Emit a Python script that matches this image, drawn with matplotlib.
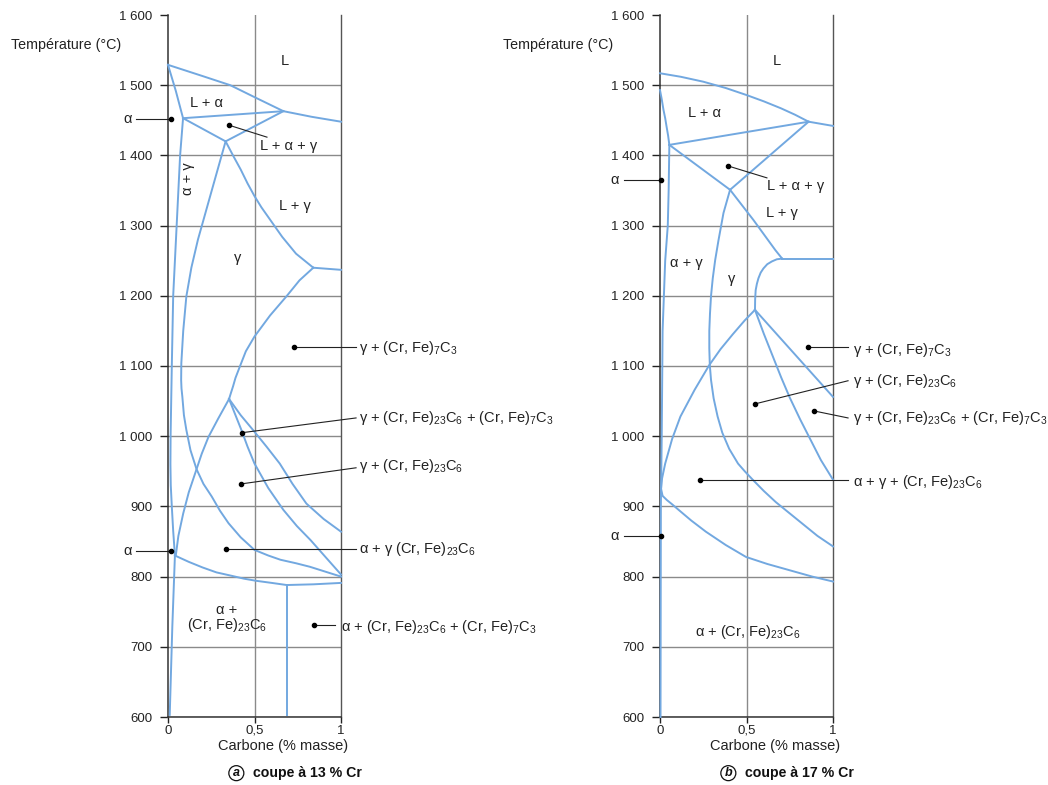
import matplotlib.pyplot as plt

plt.rcParams['font.family'] = ['Liberation Sans', 'DejaVu Sans']
plt.rcParams['mathtext.fontset'] = 'custom'
plt.rcParams['mathtext.rm'] = 'Liberation Sans'
plt.rcParams['mathtext.it'] = 'Liberation Sans:italic'

BLUE = '#72a8e0'
GRID = '#8a8a8a'
INK = '#222222'

temp_ticks = [600, 700, 800, 900, 1000, 1100, 1200, 1300, 1400, 1500, 1600]
temp_labels = ['600', '700', '800', '900', '1 000', '1 100', '1 200', '1 300', '1 400', '1 500', '1 600']
carbon_ticks = [0, 0.5, 1]
carbon_labels = ['0', '0,5', '1']

# ---- coupe a 13 % Cr : (carbone, temperature) pour chaque ligne
a_liquidus_c = [0, 0.2, 0.36, 0.5, 0.667, 0.83, 1.0]
a_liquidus_t = [1529, 1513, 1500, 1483, 1463, 1455, 1448]
a_solidus_alpha_c = [0, 0.045, 0.087]
a_solidus_alpha_t = [1529, 1492, 1453]
a_peri_high_c = [0.087, 0.667]
a_peri_high_t = [1453, 1463]
a_peri_low_c = [0.087, 0.333]
a_peri_low_t = [1453, 1420]
a_peri_join_c = [0.333, 0.667]
a_peri_join_t = [1420, 1463]
a_solidus_gamma_c = [0.333, 0.38, 0.42, 0.46, 0.5, 0.54, 0.58, 0.62, 0.66, 0.70, 0.74, 0.79, 0.84]
a_solidus_gamma_t = [1420, 1398, 1380, 1360, 1342, 1326, 1312, 1298, 1284, 1272, 1260, 1250, 1240]
a_eutectic_c = [0.84, 1.0]
a_eutectic_t = [1240, 1237]
a_m7c3_c = [0.84, 0.76, 0.684, 0.59, 0.5, 0.45, 0.415, 0.39, 0.376, 0.363, 0.353]
a_m7c3_t = [1240, 1222, 1199, 1172, 1142, 1121, 1099, 1083, 1071, 1061, 1053]
a_m23c6_c = [0.353, 0.29, 0.234, 0.195, 0.165, 0.12, 0.088, 0.06, 0.045]
a_m23c6_t = [1053, 1025, 999, 975, 953, 920, 890, 858, 830]
a_gamma_loop_c = [0.333, 0.254, 0.173, 0.135, 0.106, 0.088, 0.077, 0.076, 0.078, 0.083, 0.092,
                  0.106, 0.13, 0.165, 0.205, 0.253, 0.30, 0.35, 0.42, 0.5, 0.58, 0.65, 0.74, 0.82,
                  0.91, 1.0]
a_gamma_loop_t = [1420, 1351, 1280, 1240, 1199, 1150, 1104, 1080, 1068, 1056, 1030,
                  1009, 980, 953, 932, 914, 894, 876, 856, 838, 830, 824, 819, 814,
                  807, 800]
a_line_a_c = [0.353, 0.39, 0.424, 0.46, 0.5, 0.58, 0.667, 0.745, 0.824, 0.91, 1.0]
a_line_a_t = [1053, 1030, 1009, 985, 961, 926, 895, 872, 852, 828, 803]
a_line_b_c = [0.353, 0.42, 0.491, 0.57, 0.646, 0.72, 0.8, 0.9, 1.0]
a_line_b_t = [1053, 1030, 1009, 985, 961, 932, 904, 882, 864]
a_alpha_c = [0.087, 0.07, 0.06, 0.046, 0.03, 0.022, 0.015, 0.014, 0.016, 0.022, 0.03, 0.04]
a_alpha_t = [1453, 1400, 1350, 1280, 1200, 1100, 1000, 960, 930, 900, 865, 830]
a_alpha_low_c = [0.04, 0.025, 0.01]
a_alpha_low_t = [830, 729, 603]
a_eutectoid_c = [0.04, 0.12, 0.2, 0.28, 0.37, 0.44, 0.51, 0.6, 0.686, 0.84, 1.0]
a_eutectoid_t = [830, 821, 813, 806, 801, 797, 794, 791, 788, 789, 791]
a_vertical_c = [0.686, 0.686]
a_vertical_t = [788, 603]

# ---- coupe a 17 % Cr
b_liquidus_c = [0, 0.12, 0.25, 0.38, 0.5, 0.6, 0.7, 0.78, 0.859, 1.0]
b_liquidus_t = [1517, 1512, 1505, 1496, 1486, 1477, 1467, 1458, 1448, 1442]
b_solidus_alpha_c = [0, 0.01, 0.02, 0.03, 0.038, 0.047, 0.054]
b_solidus_alpha_t = [1493, 1480, 1465, 1453, 1441, 1428, 1415]
b_peri_high_c = [0.054, 0.859]
b_peri_high_t = [1415, 1448]
b_peri_low_c = [0.054, 0.405]
b_peri_low_t = [1415, 1351]
b_peri_join_c = [0.405, 0.859]
b_peri_join_t = [1351, 1448]
b_solidus_gamma_c = [0.405, 0.54, 0.667, 0.706]
b_solidus_gamma_t = [1351, 1308, 1265, 1253]
b_eutectic_c = [0.706, 1.0]
b_eutectic_t = [1253, 1253]
b_m7c3_c = [0.706, 0.675, 0.647, 0.62, 0.598, 0.582, 0.569, 0.56, 0.553, 0.55, 0.549]
b_m7c3_t = [1253, 1252, 1249, 1245, 1239, 1233, 1225, 1217, 1208, 1195, 1180]
b_gamma_loop_c = [0.405, 0.367, 0.338, 0.319, 0.305, 0.295, 0.289, 0.285, 0.285, 0.288, 0.295,
                  0.31, 0.333, 0.36, 0.4, 0.451, 0.49, 0.536, 0.6, 0.67, 0.75, 0.83, 0.91, 1.0]
b_gamma_loop_t = [1351, 1318, 1279, 1251, 1225, 1200, 1175, 1150, 1125, 1101, 1080,
                  1054, 1028, 1005, 982, 961, 950, 938, 922, 906, 890, 874, 858, 843]
b_m23c6_c = [0.549, 0.49, 0.42, 0.35, 0.284, 0.2, 0.118, 0.07, 0.03, 0.012, 0.006, 0.015, 0.04,
             0.07, 0.108, 0.18, 0.265, 0.38, 0.497, 0.62, 0.75, 0.88, 1.0]
b_m23c6_t = [1180, 1165, 1145, 1124, 1101, 1066, 1028, 996, 961, 940, 925, 915, 909,
             903, 895, 880, 864, 845, 828, 818, 809, 800, 793]
b_line_a_c = [0.549, 1.0]
b_line_a_t = [1180, 1056]
b_line_b_c = [0.549, 0.6, 0.65, 0.7, 0.75, 0.81, 0.87, 0.93, 1.0]
b_line_b_t = [1180, 1146, 1115, 1084, 1055, 1024, 995, 966, 938]
b_alpha_c = [0.054, 0.05, 0.045, 0.03, 0.015, 0.01, 0.005, 0.003]
b_alpha_t = [1415, 1350, 1300, 1250, 1150, 1000, 900, 600]

panel_a = [
    (a_liquidus_c, a_liquidus_t), (a_solidus_alpha_c, a_solidus_alpha_t),
    (a_peri_high_c, a_peri_high_t), (a_peri_low_c, a_peri_low_t),
    (a_peri_join_c, a_peri_join_t), (a_solidus_gamma_c, a_solidus_gamma_t),
    (a_eutectic_c, a_eutectic_t), (a_m7c3_c, a_m7c3_t), (a_m23c6_c, a_m23c6_t),
    (a_gamma_loop_c, a_gamma_loop_t), (a_line_a_c, a_line_a_t),
    (a_line_b_c, a_line_b_t), (a_alpha_c, a_alpha_t),
    (a_alpha_low_c, a_alpha_low_t), (a_eutectoid_c, a_eutectoid_t),
    (a_vertical_c, a_vertical_t),
]
panel_b = [
    (b_liquidus_c, b_liquidus_t), (b_solidus_alpha_c, b_solidus_alpha_t),
    (b_peri_high_c, b_peri_high_t), (b_peri_low_c, b_peri_low_t),
    (b_peri_join_c, b_peri_join_t), (b_solidus_gamma_c, b_solidus_gamma_t),
    (b_eutectic_c, b_eutectic_t), (b_m7c3_c, b_m7c3_t),
    (b_gamma_loop_c, b_gamma_loop_t), (b_m23c6_c, b_m23c6_t),
    (b_line_a_c, b_line_a_t), (b_line_b_c, b_line_b_t), (b_alpha_c, b_alpha_t),
]

M7 = '(Cr, Fe)$_{7}$C$_{3}$'
M23 = '(Cr, Fe)$_{23}$C$_{6}$'

# (texte, x, y, ha, rotation)
labels_a = [
    ('L', 0.676, 1534, 'center', 0), ('L + α', 0.22, 1475, 'center', 0),
    ('L + α + γ', 0.70, 1413, 'center', 0), ('α + γ', 0.117, 1367, 'center', 90),
    ('L + γ', 0.734, 1328, 'center', 0), ('γ', 0.40, 1254, 'center', 0),
    ('γ + ' + M7, 1.104, 1126, 'left', 0),
    ('γ + ' + M23 + ' + ' + M7, 1.104, 1026, 'left', 0),
    ('γ + ' + M23, 1.104, 958, 'left', 0),
    ('α + γ ' + M23, 1.104, 839, 'left', 0),
    ('α +\n' + M23, 0.341, 740, 'center', 0),
    ('α + ' + M23 + ' + ' + M7, 1.0, 728, 'left', 0),
    ('α', -0.21, 1452, 'right', 0), ('α', -0.21, 836, 'right', 0),
]
# (x point, T point, x fin, T fin)
leaders_a = [
    (0.353, 1443, 0.572, 1426), (0.728, 1127, 1.087, 1127),
    (0.428, 1005, 1.087, 1026), (0.422, 932, 1.087, 955),
    (0.335, 839, 1.087, 839), (0.844, 731, 0.965, 731),
    (0.017, 1452, -0.185, 1452), (0.017, 836, -0.185, 836),
]
labels_b = [
    ('L', 0.676, 1534, 'center', 0), ('L + α', 0.26, 1460, 'center', 0),
    ('L + α + γ', 0.786, 1356, 'center', 0), ('L + γ', 0.705, 1318, 'center', 0),
    ('α + γ', 0.15, 1247, 'center', 0), ('γ', 0.416, 1224, 'center', 0),
    ('γ + ' + M7, 1.116, 1123, 'left', 0),
    ('γ + ' + M23, 1.116, 1079, 'left', 0),
    ('γ + ' + M23 + ' + ' + M7, 1.116, 1026, 'left', 0),
    ('α + γ + ' + M23, 1.116, 935, 'left', 0),
    ('α + ' + M23, 0.509, 721, 'center', 0),
    ('α', -0.235, 1365, 'right', 0), ('α', -0.235, 858, 'right', 0),
]
leaders_b = [
    (0.393, 1385, 0.618, 1368), (0.855, 1127, 1.087, 1127),
    (0.549, 1046, 1.087, 1079), (0.89, 1036, 1.087, 1026),
    (0.231, 938, 1.087, 938),
    (0.006, 1365, -0.208, 1365), (0.006, 858, -0.208, 858),
]

fig = plt.figure(figsize=(10.48, 7.85), dpi=100)
ax_a = fig.add_axes([168 / 1048, 1 - 717 / 785, 173 / 1048, 702 / 785])
ax_b = fig.add_axes([660 / 1048, 1 - 717 / 785, 173 / 1048, 702 / 785])


def draw_panel(ax, curves, labels, leaders, caption, letter):
    ax.set_xlim(0, 1)
    ax.set_ylim(600, 1600)
    for t in temp_ticks[:-1]:
        ax.axhline(t, color=GRID, lw=1.0, zorder=1)
    ax.axvline(0.5, color=GRID, lw=1.0, zorder=1)
    ax.axvline(1.0, color='#555555', lw=1.0, zorder=1, clip_on=False)
    for c, t in curves:
        ax.plot(c, t, color=BLUE, lw=1.4, zorder=3, clip_on=False,
                solid_joinstyle='round')
    for txt, x, y, ha, rot in labels:
        ax.text(x, y, txt, ha=ha, va='center', rotation=rot, fontsize=10.5,
                color=INK, clip_on=False, linespacing=0.95)
    for x0, y0, x1, y1 in leaders:
        ax.plot([x0, x1], [y0, y1], color=INK, lw=0.8, zorder=4, clip_on=False)
        ax.plot([x0], [y0], 'o', color='black', ms=3, zorder=5, clip_on=False)
    ax.set_yticks(temp_ticks)
    ax.set_yticklabels(temp_labels)
    ax.set_xticks(carbon_ticks)
    ax.set_xticklabels(carbon_labels)
    ax.tick_params(axis='y', labelsize=9.5, colors=INK, length=6, width=1, pad=5)
    ax.tick_params(axis='x', labelsize=9.5, colors=INK, length=4, width=1, pad=1.5)
    for side in ['top', 'right']:
        ax.spines[side].set_visible(False)
    for side in ['left', 'bottom']:
        ax.spines[side].set_color('#333333')
        ax.spines[side].set_linewidth(1.1)
    ax.text(0.665, 558, 'Carbone (% masse)', ha='center', va='center',
            fontsize=10.5, color=INK, clip_on=False)
    ax.text(-0.91, 1557, 'Température (°C)', fontsize=10.3, color=INK,
            ha='left', va='center', clip_on=False)
    # legende du bas : lettre cerclee + texte gras
    ax.text(0.395, 520, letter, ha='center', va='center', fontsize=9, style='italic',
            fontweight='bold', color='#111111', clip_on=False,
            bbox=dict(boxstyle='circle,pad=0.12', fc='none', ec='#111111', lw=0.9))
    ax.text(0.49, 520, caption, ha='left', va='center', fontsize=10.2,
            fontweight='bold', color='#111111', clip_on=False)


draw_panel(ax_a, panel_a, labels_a, leaders_a, 'coupe à 13 % Cr', 'a')
draw_panel(ax_b, panel_b, labels_b, leaders_b, 'coupe à 17 % Cr', 'b')

fig.savefig('out.png', dpi=100)
